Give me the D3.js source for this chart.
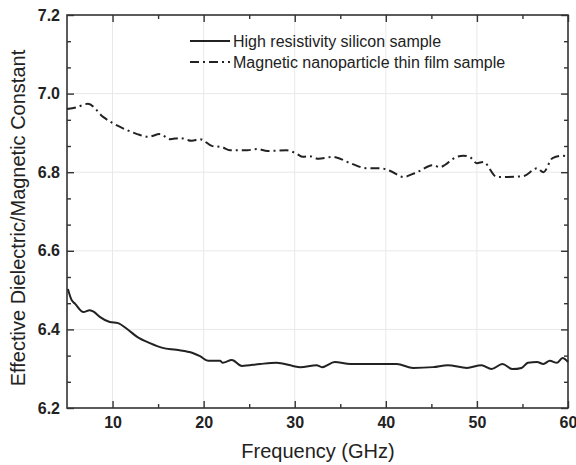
<!DOCTYPE html>
<html>
<head>
<meta charset="utf-8">
<script src="https://cdn.jsdelivr.net/npm/d3@7"></script>
<style>
  body { margin: 0; background: #fff; }
  svg { font-family: Arial, "Liberation Sans", sans-serif; }
</style>
</head>
<body>
<svg width="576" height="465"></svg>
<script>
// High resistivity silicon sample (solid)
var siFreq = [5.1, 5.5, 5.9, 6.8, 7.5, 8.0, 8.6, 9.7, 10.6, 11.6, 12.7, 14.1, 15.5, 17.0, 18.8, 19.6, 20.5, 21.8, 22.1, 23.1, 24.2, 26.2, 28.0, 29.8, 30.6, 32.4, 33.0, 34.4, 36.1, 38.0, 41.2, 43.0, 45.2, 46.8, 48.9, 50.5, 51.6, 52.8, 53.9, 54.9, 55.6, 56.6, 57.3, 58.0, 58.8, 59.4, 60.0];
var siValue = [6.503, 6.475, 6.465, 6.444, 6.449, 6.444, 6.432, 6.419, 6.416, 6.401, 6.381, 6.365, 6.353, 6.348, 6.340, 6.332, 6.320, 6.320, 6.315, 6.322, 6.307, 6.312, 6.315, 6.307, 6.304, 6.309, 6.304, 6.317, 6.312, 6.312, 6.312, 6.302, 6.304, 6.309, 6.302, 6.309, 6.299, 6.312, 6.299, 6.302, 6.315, 6.317, 6.312, 6.320, 6.315, 6.327, 6.317];

// Magnetic nanoparticle thin film sample (dash-dot)
var mnFreq = [5.0, 6.0, 7.3, 9.0, 10.0, 11.6, 12.7, 13.9, 15.2, 16.3, 17.4, 18.7, 19.6, 20.9, 22.0, 22.9, 24.8, 25.9, 27.0, 29.1, 30.2, 30.9, 31.6, 32.6, 34.2, 36.1, 37.9, 39.4, 40.5, 41.9, 43.4, 45.2, 45.9, 47.8, 48.5, 49.2, 50.0, 50.7, 52.2, 53.3, 55.1, 56.6, 57.3, 58.3, 59.4, 60.0];
var mnValue = [6.961, 6.965, 6.974, 6.940, 6.925, 6.907, 6.897, 6.890, 6.897, 6.884, 6.887, 6.880, 6.884, 6.867, 6.864, 6.856, 6.856, 6.859, 6.854, 6.856, 6.847, 6.839, 6.841, 6.834, 6.839, 6.823, 6.810, 6.810, 6.803, 6.788, 6.800, 6.818, 6.813, 6.839, 6.842, 6.839, 6.823, 6.826, 6.788, 6.788, 6.790, 6.810, 6.800, 6.836, 6.842, 6.840];

var xTicks = [10, 20, 30, 40, 50, 60];
var yTicks = [6.2, 6.4, 6.6, 6.8, 7.0, 7.2];
var legendLabels = ["High resistivity silicon sample", "Magnetic nanoparticle thin film sample"];

var pL = 67, pR = 568, pT = 15, pB = 408;
var ink = "#222";

var x = d3.scaleLinear().domain([5, 60]).range([pL, pR]);
var y = d3.scaleLinear().domain([6.2, 7.2]).range([pB, pT]);

var svg = d3.select("svg");

// grid
svg.append("g").selectAll("line").data(xTicks.slice(0, -1))
  .join("line")
  .attr("x1", d => x(d)).attr("x2", d => x(d))
  .attr("y1", pT).attr("y2", pB)
  .attr("stroke", "#e8e8e8").attr("stroke-width", 1);
svg.append("g").selectAll("line").data(yTicks.slice(1, -1))
  .join("line")
  .attr("x1", pL).attr("x2", pR)
  .attr("y1", d => y(d)).attr("y2", d => y(d))
  .attr("stroke", "#e8e8e8").attr("stroke-width", 1);

// minor tick values
var xMinor = d3.range(15, 60, 10);
var yMinor = d3.range(0, 16).map(i => 6.2 + i * 0.2 / 3).filter((d, i) => i % 3 !== 0);

function inTicks(axis, sel) {
  sel.call(axis);
  sel.select(".domain").remove();
  sel.selectAll("line").attr("stroke", "#333").attr("stroke-width", 1.4);
}

// bottom axis
var gb = svg.append("g").attr("transform", `translate(0,${pB})`);
inTicks(d3.axisBottom(x).tickValues(xTicks).tickSize(-7).tickPadding(9).tickFormat(d3.format("d")), gb);
gb.selectAll("text").attr("font-size", 16).attr("font-weight", "bold").attr("fill", ink)
  .attr("font-family", "Arial, 'Liberation Sans', sans-serif");
inTicks(d3.axisBottom(x).tickValues(xMinor).tickSize(-4).tickFormat(""), svg.append("g").attr("transform", `translate(0,${pB})`));

// top axis
inTicks(d3.axisTop(x).tickValues(xTicks).tickSize(-7).tickFormat(""), svg.append("g").attr("transform", `translate(0,${pT})`));
inTicks(d3.axisTop(x).tickValues(xMinor).tickSize(-4).tickFormat(""), svg.append("g").attr("transform", `translate(0,${pT})`));

// left axis
var gl = svg.append("g").attr("transform", `translate(${pL},0)`);
inTicks(d3.axisLeft(y).tickValues(yTicks).tickSize(-7).tickPadding(7).tickFormat(d3.format(".1f")), gl);
gl.selectAll("text").attr("font-size", 16).attr("font-weight", "bold").attr("fill", ink)
  .attr("font-family", "Arial, 'Liberation Sans', sans-serif");
inTicks(d3.axisLeft(y).tickValues(yMinor).tickSize(-4).tickFormat(""), svg.append("g").attr("transform", `translate(${pL},0)`));

// right axis
inTicks(d3.axisRight(y).tickValues(yTicks).tickSize(-7).tickFormat(""), svg.append("g").attr("transform", `translate(${pR},0)`));
inTicks(d3.axisRight(y).tickValues(yMinor).tickSize(-4).tickFormat(""), svg.append("g").attr("transform", `translate(${pR},0)`));

// frame
svg.append("rect")
  .attr("x", pL).attr("y", pT)
  .attr("width", pR - pL).attr("height", pB - pT)
  .attr("fill", "none").attr("stroke", "#333").attr("stroke-width", 1.6);

// series
var line = d3.line().x(d => x(d[0])).y(d => y(d[1])).curve(d3.curveMonotoneX);
svg.append("path")
  .datum(d3.zip(siFreq, siValue))
  .attr("d", line)
  .attr("fill", "none").attr("stroke", ink).attr("stroke-width", 2);
svg.append("path")
  .datum(d3.zip(mnFreq, mnValue))
  .attr("d", line)
  .attr("fill", "none").attr("stroke", ink).attr("stroke-width", 2)
  .attr("stroke-dasharray", "9,4,2,4");

// legend
var lg = svg.append("g");
lg.selectAll("line").data(legendLabels).join("line")
  .attr("x1", 190).attr("x2", 230)
  .attr("y1", (d, i) => 41 + i * 21).attr("y2", (d, i) => 41 + i * 21)
  .attr("stroke", ink).attr("stroke-width", 2)
  .attr("stroke-dasharray", (d, i) => i ? "9,4,2,4" : null);
lg.selectAll("text").data(legendLabels).join("text")
  .attr("x", 233).attr("y", (d, i) => 47 + i * 21)
  .attr("font-size", 16).attr("fill", ink)
  .text(d => d);

// axis titles
svg.append("text")
  .attr("x", 318).attr("y", 458)
  .attr("text-anchor", "middle").attr("font-size", 20).attr("fill", ink)
  .text("Frequency (GHz)");
svg.append("text")
  .attr("transform", "translate(25,218) rotate(-90)")
  .attr("text-anchor", "middle").attr("font-size", 20).attr("fill", ink)
  .text("Effective Dielectric/Magnetic Constant");
</script>
</body>
</html>
